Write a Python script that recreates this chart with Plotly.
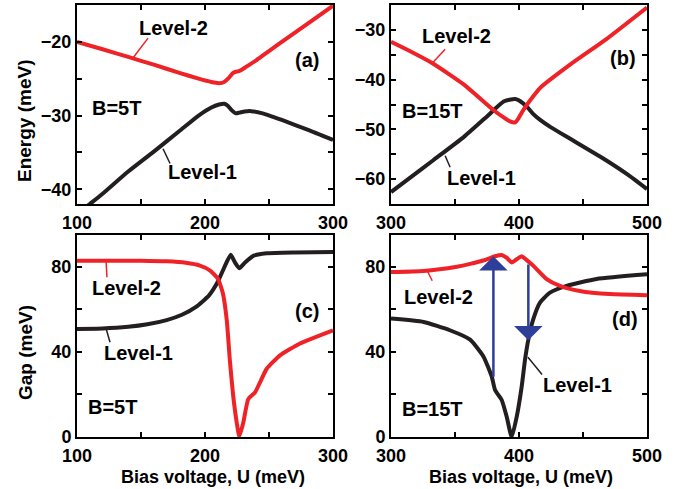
import plotly.graph_objects as go

# ---------------- data ----------------
# (a) B=5T energy
a_x2 = [100, 120, 140, 160, 180, 195, 205, 211, 215, 218, 220, 222, 224, 226, 228, 232, 240, 260, 280, 300]
a_y2 = [-20.0, -21.0, -22.05, -23.1, -24.2, -25.0, -25.45, -25.6, -25.45, -25.0, -24.6, -24.2, -24.05, -24.0, -23.85, -23.4, -22.5, -20.0, -17.55, -15.1]
a_x1 = [100, 110, 120, 140, 160, 180, 195, 205, 211, 215, 218, 221, 224, 227, 231, 236, 245, 260, 280, 300]
a_y1 = [-43.4, -42.0, -40.6, -37.6, -34.9, -32.1, -30.0, -28.9, -28.5, -28.4, -28.7, -29.3, -29.7, -29.6, -29.45, -29.4, -29.7, -30.6, -31.9, -33.3]

# (b) B=15T energy
b_x2 = [300, 315, 333, 357, 380, 388, 393, 397, 400, 403.4, 411, 416.4, 442, 468, 500]
b_y2 = [-32.4, -34.3, -36.8, -41.0, -46.1, -47.6, -48.4, -48.6, -47.6, -46.1, -43.4, -41.7, -36.6, -31.9, -25.5]
b_x1 = [300, 315, 333, 357, 375, 388, 397, 403, 407, 411, 416, 425, 442, 468, 485, 500]
b_y1 = [-62.6, -59.7, -56.2, -51.5, -47.4, -44.4, -43.9, -44.7, -45.7, -46.9, -48.0, -49.6, -52.2, -56.2, -59.1, -62.0]

# (c) B=5T gap
c_x2 = [100, 150, 170, 185, 196, 204, 210, 214, 217, 219.5, 222, 224.8, 226.8, 229.9, 233.8, 239.1, 243, 248.2, 258.6, 274.2, 300]
c_y2 = [82.9, 82.9, 82.6, 81.9, 80.6, 78.3, 74.5, 67.5, 55.0, 35.5, 19.5, 6.7, 0.3, 6.7, 17.8, 21.0, 25.7, 32.1, 38.4, 44.0, 50.2]
c_x1 = [100, 120, 140, 155, 170, 182, 193, 203, 210, 215.6, 220.1, 223.4, 226.8, 231.3, 237.7, 248.2, 270, 300]
c_y1 = [50.8, 51.0, 51.8, 53.0, 55.0, 57.5, 61.2, 66.5, 73.0, 80.5, 85.7, 82.1, 79.4, 82.1, 85.2, 86.4, 86.8, 87.0]

# (d) B=15T gap
d_x2 = [300, 325.5, 351.4, 361.8, 372, 381.3, 386.5, 390.5, 394.3, 398.2, 402.1, 406, 411.1, 421.6, 432, 447.5, 470.9, 500]
d_y2 = [77.6, 78.1, 80.1, 81.4, 83.0, 85.0, 85.6, 84.2, 82.1, 83.6, 85.0, 83.2, 80.6, 74.3, 71.1, 68.7, 67.2, 66.7]
d_x1 = [300, 325.5, 346, 361.8, 372.2, 378.7, 381.3, 386.5, 390.4, 394.3, 398.2, 402.1, 404.7, 407.3, 411.1, 416.4, 424.2, 437.2, 460.6, 500]
d_y1 = [55.7, 54.1, 50.2, 45.8, 37.9, 28.4, 22.1, 17.4, 9.5, 0.0, 9.5, 23.7, 36.3, 45.8, 55.3, 63.2, 67.9, 71.1, 74.3, 76.5]

# arrows in (d): (x, y_from, y_to)
arrows_d = [(380, 27.6, 85.0), (407.3, 81.8, 45.5)]

RED = "#ee2227"
BLACK = "#231f20"
BLUE = "#2e3f9a"
FONT = "Liberation Sans, Arial, sans-serif"

fig = go.Figure()

W, H = 679, 489
def px2fx(p):
    return p / W
def px2fy(p):
    return 1 - p / H

panels = [
    dict(xa="x", ya="y", xd=(77, 333), yd=(5, 204), xr=[100, 300], yr=[-42, -15], ydt=10, xdt=100),
    dict(xa="x2", ya="y2", xd=(391, 647), yd=(5, 204), xr=[300, 500], yr=[-65, -25], ydt=10, xdt=100),
    dict(xa="x3", ya="y3", xd=(77, 333), yd=(235, 437), xr=[100, 300], yr=[0, 95], ydt=40, xdt=100),
    dict(xa="x4", ya="y4", xd=(391, 647), yd=(235, 437), xr=[300, 500], yr=[0, 95], ydt=40, xdt=100),
]

series = [
    (a_x1, a_y1, BLACK, 0), (a_x2, a_y2, RED, 0),
    (b_x1, b_y1, BLACK, 1), (b_x2, b_y2, RED, 1),
    (c_x1, c_y1, BLACK, 2), (c_x2, c_y2, RED, 2),
    (d_x1, d_y1, BLACK, 3), (d_x2, d_y2, RED, 3),
]
for xs, ys, col, k in series:
    p = panels[k]
    fig.add_trace(go.Scatter(x=xs, y=ys, mode="lines", xaxis=p["xa"], yaxis=p["ya"],
                             line=dict(color=col, width=4, shape="spline", smoothing=0.5),
                             showlegend=False, hoverinfo="skip"))

layout = dict(width=W, height=H, margin=dict(l=0, r=0, t=0, b=0, autoexpand=False),
              paper_bgcolor="white", plot_bgcolor="white", showlegend=False)

for i, p in enumerate(panels):
    sx = "" if i == 0 else str(i + 1)
    ax_common = dict(showline=True, linecolor="black", linewidth=2, mirror="ticks",
                     ticks="inside", ticklen=5, tickwidth=1.5, tickcolor="black",
                     showgrid=False, zeroline=False, automargin=False,
                     tickfont=dict(family=FONT, size=18, color="black", weight="bold"))
    layout["xaxis" + sx] = dict(ax_common, domain=[px2fx(p["xd"][0]), px2fx(p["xd"][1])],
                                range=p["xr"], dtick=p["xdt"], tick0=0, anchor="y" + sx,
                                ticklabelstandoff=1,
                                minor=dict(dtick=p["xdt"] / 2, ticks="inside", ticklen=5,
                                           tickwidth=1.5, tickcolor="black"))
    layout["yaxis" + sx] = dict(ax_common, domain=[px2fy(p["yd"][1]), px2fy(p["yd"][0])],
                                range=p["yr"], dtick=p["ydt"], tick0=0, anchor="x" + sx,
                                minor=dict(dtick=p["ydt"] / 2, ticks="inside", ticklen=5,
                                           tickwidth=1.5, tickcolor="black"))
fig.update_layout(**layout)

ann = []
def txt(xref, yref, x, y, s, size=20):
    ann.append(dict(xref=xref, yref=yref, x=x, y=y, text=s, showarrow=False,
                    font=dict(family=FONT, size=size, color="black", weight="bold"),
                    xanchor="center", yanchor="middle"))

# panel (a)
txt("x", "y", 175, -18.1, "Level-2")
txt("x", "y", 197.7, -37.7, "Level-1")
txt("x", "y", 131, -29.0, "B=5T")
txt("x", "y", 279.7, -22.4, "(a)")
# panel (b)
txt("x2", "y2", 350.9, -31.3, "Level-2")
txt("x2", "y2", 370.4, -59.8, "Level-1")
txt("x2", "y2", 332.2, -46.3, "B=15T")
txt("x2", "y2", 481, -35.7, "(b)")
# panel (c)
txt("x3", "y3", 138.3, 69.9, "Level-2")
txt("x3", "y3", 147.7, 39.4, "Level-1")
txt("x3", "y3", 279.7, 59.4, "(c)")
txt("x3", "y3", 128.1, 14.1, "B=5T")
# panel (d)
txt("x4", "y4", 336.9, 65.9, "Level-2")
txt("x4", "y4", 446, 24.6, "Level-1")
txt("x4", "y4", 482.6, 55.5, "(d)")
txt("x4", "y4", 332.2, 13.3, "B=15T")

# axis titles
def ptxt(px, py, s, angle=0, size=18):
    ann.append(dict(xref="paper", yref="paper", x=px2fx(px), y=px2fy(py), text=s,
                    showarrow=False, textangle=angle,
                    font=dict(family=FONT, size=size, color="black", weight="bold"),
                    xanchor="center", yanchor="middle"))
ptxt(25, 121, "Energy (meV)", -90, 19)
ptxt(25, 353, "Gap (meV)", -90, 19)
ptxt(213, 477, "Bias voltage, U (meV)")
ptxt(521, 477, "Bias voltage, U (meV)")

# arrows (d)
for x, y0, y1 in arrows_d:
    ann.append(dict(xref="x4", yref="y4", axref="x4", ayref="y4", x=x, y=y1, ax=x, ay=y0,
                    showarrow=True, arrowhead=1, arrowsize=1.9, arrowwidth=2.5,
                    arrowcolor=BLUE, text="", standoff=0))
fig.update_layout(annotations=ann)

# leader lines
leaders = [
    ("x", "y", 155.5, -19.5, 143.7, -22.2, RED),
    ("x", "y", 172.7, -36.5, 167.2, -34.5, BLACK),
    ("x2", "y2", 342.3, -33.9, 332.2, -36.7, RED),
    ("x2", "y2", 346.2, -57.6, 342.3, -55.3, BLACK),
    ("x3", "y3", 123.4, 75.1, 122.7, 82.9, RED),
    ("x3", "y3", 125.8, 44.6, 122.7, 51.0, BLACK),
    ("x4", "y4", 332.2, 73.5, 328.3, 78.2, RED),
    ("x4", "y4", 418, 29.4, 407, 37.5, BLACK),
]
for xr, yr, x0, y0, x1, y1, col in leaders:
    fig.add_shape(type="line", xref=xr, yref=yr, x0=x0, y0=y0, x1=x1, y1=y1,
                  line=dict(color=col, width=1.5))

fig.write_html("out.html")
